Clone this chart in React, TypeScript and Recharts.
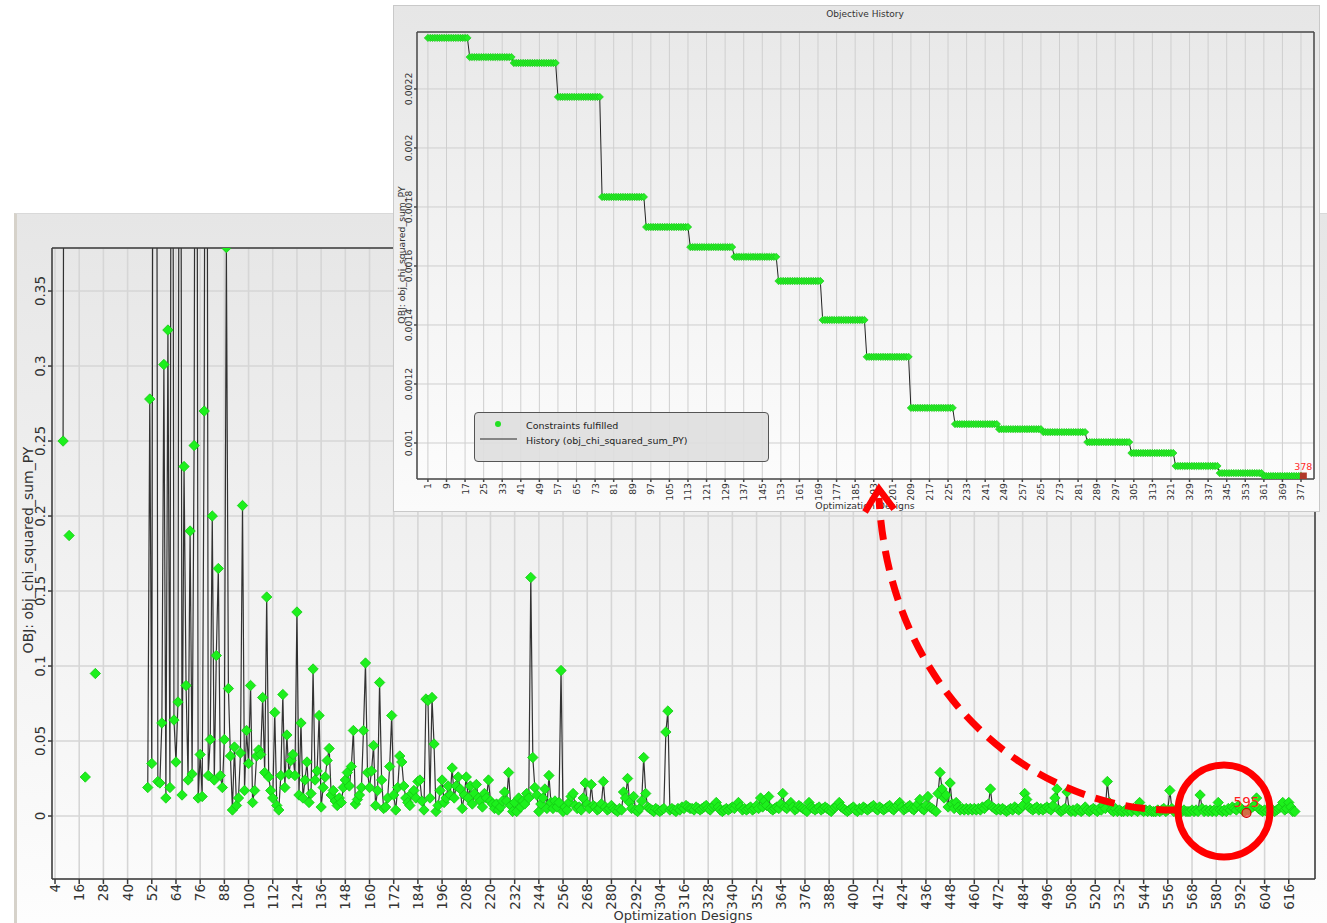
import React from "react";
import { LineChart, Line, XAxis, YAxis, CartesianGrid } from "recharts";

// ---- main run (values in 1e-3), isolated early designs ----
const earlyDesigns = [8, 9, 11, 19, 24];
const earlyValues = [250, 900, 187, 26, 95];

// designs 50..99
const d050 = [
  19, 278, 35, 900, 900, 23, 22, 62, 301, 12,
  324, 19, 900, 64, 36, 76, 900, 14, 233, 87,
  24, 190, 28, 247, 900, 12, 41, 13, 270, 900,
  27, 51, 200, 24, 107, 165, 27, 19, 51, 379,
  85, 40, 4, 46, 7, 12, 42, 207, 17, 57,
];
const d100 = [
  35, 87, 9, 17, 40, 44, 41, 79, 29, 146,
  26, 17, 12, 69, 7, 4, 27, 81, 19, 54,
  28, 37, 41, 27, 136, 14, 62, 12, 24, 36,
  9, 15, 98, 24, 30, 67, 6, 19, 26, 37,
  45, 14, 17, 10, 7, 12, 9, 19, 24, 29,
];
const d150 = [
  20, 33, 57, 8, 11, 14, 19, 57, 102, 29,
  19, 30, 47, 7, 17, 89, 24, 5, 6, 12,
  33, 67, 14, 4, 19, 40, 36, 20, 12, 9,
  7, 15, 17, 12, 23, 24, 10, 4, 78, 77,
  12, 79, 48, 3, 7, 17, 24, 9, 12, 20,
];
const d200 = [
  14, 32, 12, 20, 26, 18, 5, 14, 26, 12,
  20, 8, 15, 21, 12, 10, 6, 15, 12, 24,
  10, 8, 5, 8, 4, 6, 10, 16, 10, 29,
  7, 3, 9, 3, 12, 6, 10, 8, 15, 12,
  159, 39, 19, 14, 3, 8, 12, 18, 5, 27,
];
const d250 = [
  9, 5, 10, 6, 9, 97, 3, 6, 4, 9,
  13, 15, 7, 5, 6, 4, 12, 22, 8, 5,
  21, 7, 6, 4, 5, 8, 23, 6, 4, 5,
  7, 5, 4, 3, 5, 4, 16, 12, 25, 9,
  5, 13, 4, 3, 5, 10, 39, 15, 6, 5,
];
const d300 = [
  4, 3, 5, 4, 3, 4, 5, 56, 70, 4,
  5, 4, 3, 5, 4, 6, 5, 7, 6, 5,
  5, 4, 6, 5, 4, 5, 6, 7, 5, 4,
  6, 7, 9, 6, 4, 3, 4, 5, 4, 5,
  6, 5, 7, 9, 6, 4, 5, 4, 5, 6,
];
const d350 = [
  4, 5, 7, 5, 12, 6, 10, 7, 13, 5,
  4, 5, 6, 5, 8, 15, 6, 5, 7, 9,
  6, 4, 5, 7, 6, 5, 4, 3, 9, 6,
  5, 4, 5, 6, 4, 5, 6, 5, 4, 3,
  5, 6, 7, 9, 6, 5, 4, 3, 4, 5,
];
const d400 = [
  6, 4, 3, 5, 4, 6, 5, 4, 5, 6,
  7, 5, 4, 6, 5, 4, 5, 6, 7, 5,
  4, 6, 7, 9, 6, 4, 5, 6, 7, 5,
  4, 6, 8, 11, 5, 4, 7, 13, 6, 5,
  4, 3, 15, 29, 18, 12, 14, 6, 22, 8,
];
const d450 = [
  5, 9, 6, 4, 5, 4, 5, 4, 5, 4,
  5, 4, 5, 4, 6, 5, 7, 8, 18, 6,
  5, 4, 5, 4, 5, 4, 3, 4, 5, 4,
  6, 5, 4, 5, 7, 15, 11, 6, 5, 4,
  5, 6, 4, 5, 4, 5, 6, 5, 4, 7,
];
const d500 = [
  12, 18, 4, 3, 4, 5, 16, 4, 3, 4,
  3, 5, 4, 3, 4, 6, 4, 3, 4, 5,
  4, 3, 5, 4, 7, 5, 23, 9, 4, 3,
  5, 3, 4, 3, 3, 4, 3, 4, 3, 5,
  4, 3, 9, 4, 3, 4, 3, 4, 3, 3,
];
const d550 = [
  3, 4, 3, 4, 5, 3, 4, 17, 5, 3,
  4, 3, 4, 3, 4, 3, 3, 3, 4, 3,
  4, 3, 14, 5, 3, 4, 3, 4, 3, 4,
  3, 9, 4, 3, 4, 3, 5, 4, 6, 5,
  4, 7, 5, 4, 3, 2, 4, 5, 6, 7,
];
const d600 = [
  12, 5, 4, 3, 4, 3, 4, 3, 4, 3,
  4, 5, 6, 9, 4, 5, 9, 6, 3, 3,
];
const mainBlocks: [number, number[]][] = [
  [50, d050], [100, d100], [150, d150], [200, d200], [250, d250], [300, d300],
  [350, d350], [400, d400], [450, d450], [500, d500], [550, d550], [600, d600],
];
const mainLast = 619;

const mainXTicks = [
  4, 16, 28, 40, 52, 64, 76, 88, 100, 112, 124, 136, 148, 160, 172, 184, 196, 208,
  220, 232, 244, 256, 268, 280, 292, 304, 316, 328, 340, 352, 364, 376, 388, 400,
  412, 424, 436, 448, 460, 472, 484, 496, 508, 520, 532, 544, 556, 568, 580, 592,
  604, 616,
];
const mainYTicks = [0, 0.05, 0.1, 0.15, 0.2, 0.25, 0.3, 0.35];

// ---- inset: objective history plateaus (values in 1e-6) ----
const stepStart = [1, 19, 38, 57, 76, 95, 114, 133, 152, 171, 190, 209, 228, 247, 266, 285, 304, 323, 342, 361];
const stepLevel = [2373, 2308, 2288, 2173, 1834, 1732, 1664, 1631, 1549, 1417, 1292, 1119, 1064, 1047, 1037, 1003, 966, 922, 898, 888];
const insetLast = 378;

const insetXTicks = [
  1, 9, 17, 25, 33, 41, 49, 57, 65, 73, 81, 89, 97, 105, 113, 121, 129, 137, 145,
  153, 161, 169, 177, 185, 193, 201, 209, 217, 225, 233, 241, 249, 257, 265, 273,
  281, 289, 297, 305, 313, 321, 329, 337, 345, 353, 361, 369, 377,
];
const insetYTicks = [0.001, 0.0012, 0.0014, 0.0016, 0.0018, 0.002, 0.0022];

// ---- tables ----
const mainRows: { design: number; v: number | null }[] = [];
for (let d = 1; d <= mainLast; d++) mainRows.push({ design: d, v: null });
earlyDesigns.forEach((d, i) => (mainRows[d - 1].v = earlyValues[i] / 1000));
mainBlocks.forEach(([start, vals]) => vals.forEach((v, i) => (mainRows[start + i - 1].v = v / 1000)));

let mainBest = mainRows[0];
mainRows.forEach((r) => {
  if (r.v != null && (mainBest.v == null || r.v < mainBest.v)) mainBest = r;
});

const insetRows: { design: number; v: number }[] = [];
for (let d = 1; d <= insetLast; d++) {
  let k = 0;
  while (k + 1 < stepStart.length && stepStart[k + 1] <= d) k++;
  insetRows.push({ design: d, v: stepLevel[k] / 1e6 });
}
let insetBest = insetRows[0];
insetRows.forEach((r) => {
  if (r.v <= insetBest.v) insetBest = r;
});

const FONT = "'DejaVu Sans', Verdana, sans-serif";
const diamond = (cx: number, cy: number, r: number) =>
  `M${cx},${cy - r}L${cx + r},${cy}L${cx},${cy + r}L${cx - r},${cy}Z`;

function mainDot(props: any) {
  const { cx, cy, payload, index } = props;
  if (cx == null || cy == null || payload.v == null || payload.design === mainBest.design) return <g key={`m${index}`} />;
  return <path key={`m${index}`} d={diamond(cx, cy, 5.2)} fill="#1cf01c" stroke="#14c814" strokeWidth={0.8} />;
}

// best design: red marker and its number, drawn on top of everything else
function mainBestDot(props: any) {
  const { cx, cy, payload, index } = props;
  if (cx == null || cy == null || payload.design !== mainBest.design) return <g key={`b${index}`} />;
  return (
    <g key={`b${index}`}>
      <circle cx={cx} cy={cy} r={4.5} fill="#ff5050" fillOpacity={0.8} stroke="#d00000" strokeWidth={1.2} />
      <text x={cx} y={cy - 6} textAnchor="middle" fontSize={13.5} fill="#ff2020" fontFamily={FONT}>
        {payload.design}
      </text>
    </g>
  );
}

function insetDot(props: any) {
  const { cx, cy, payload, index } = props;
  if (cx == null || cy == null) return <g key={`i${index}`} />;
  if (payload.design === insetBest.design) {
    return (
      <g key={`i${index}`}>
        <rect x={cx - 3.5} y={cy - 3.5} width={7} height={7} fill="#b03a2a" />
        <text x={cx} y={cy - 6} textAnchor="middle" fontSize={9.5} fill="#ff2a2a" fontFamily={FONT}>
          {payload.design}
        </text>
      </g>
    );
  }
  return <path key={`i${index}`} d={diamond(cx, cy, 3.7)} fill="#25ec25" stroke="#18c018" strokeWidth={0.6} />;
}

const MainXTick = ({ x, y, payload }: any) => (
  <text x={x} y={y} transform={`rotate(-90 ${x} ${y})`} textAnchor="end" dominantBaseline="central"
    fontSize={13.5} fill="#333" fontFamily={FONT}>{payload.value}</text>
);
const MainYTick = ({ x, y, payload }: any) => (
  <text x={x - 6} y={y} transform={`rotate(-90 ${x - 6} ${y})`} textAnchor="middle" dominantBaseline="central"
    fontSize={13.5} fill="#333" fontFamily={FONT}>{payload.value}</text>
);
const InsetXTick = ({ x, y, payload }: any) => (
  <text x={x} y={y} transform={`rotate(-90 ${x} ${y})`} textAnchor="end" dominantBaseline="central"
    fontSize={9.3} fill="#333" fontFamily={FONT}>{payload.value}</text>
);
const InsetYTick = ({ x, y, payload }: any) => (
  <text x={x - 3} y={y} transform={`rotate(-90 ${x - 3} ${y})`} textAnchor="middle" dominantBaseline="central"
    fontSize={9.3} fill="#333" fontFamily={FONT}>{payload.value}</text>
);

const overlay: React.CSSProperties = { position: "absolute", left: 0, top: 0, width: 1327, height: 923, pointerEvents: "none" };

export default function App() {
  const mainX: [number, number] = [2.5, 629];
  const mainY: [number, number] = [-0.042, 0.3787];
  const insetX: [number, number] = [-3.7, 382.6];
  const insetY: [number, number] = [0.000878, 0.002393];

  return (
    <div style={{ position: "relative", width: 1327, height: 923, background: "#fff", overflow: "hidden", fontFamily: FONT }}>
      <style>{`body{margin:0}`}</style>
      <svg width={0} height={0} style={{ position: "absolute" }}>
        <defs>
          <linearGradient id="mainBg" x1="0" y1="0" x2="0" y2="1">
            <stop offset="0%" stopColor="#e7e7e7" />
            <stop offset="100%" stopColor="#fbfbfb" />
          </linearGradient>
          <linearGradient id="insetBg" x1="0" y1="0" x2="0" y2="1">
            <stop offset="0%" stopColor="#e9e9e9" />
            <stop offset="100%" stopColor="#fcfcfc" />
          </linearGradient>
        </defs>
      </svg>

      {/* main panel */}
      <div style={{ position: "absolute", left: 14, top: 213, width: 1313, height: 710,
        background: "linear-gradient(#e6e6e6, #fdfdfd)", borderLeft: "3px solid #d6d2ca", borderTop: "1px solid #d9d9d9", boxSizing: "border-box" }}>
        <div style={{ position: "absolute", left: -3, top: -1 }}>
          <LineChart width={1313} height={710} data={mainRows} margin={{ top: 35, right: 12, bottom: 4, left: 8 }}>
            <CartesianGrid stroke="#d6d6d6" strokeWidth={1.6} fill="url(#mainBg)" fillOpacity={1} />
            <XAxis type="number" dataKey="design" domain={mainX} ticks={mainXTicks} interval={0} allowDataOverflow
              height={40} tickSize={5} tickMargin={0} tick={<MainXTick />} stroke="#3a3a3a" strokeWidth={1.5} />
            <XAxis xAxisId="top" orientation="top" mirror type="number" dataKey="design" domain={mainX} ticks={mainXTicks}
              interval={0} allowDataOverflow tick={false} tickSize={5} stroke="#3a3a3a" strokeWidth={1.5} />
            <YAxis domain={mainY} ticks={mainYTicks} interval={0} allowDataOverflow width={30} tickSize={4} tickMargin={2}
              tick={<MainYTick />} stroke="#3a3a3a" strokeWidth={1.5} />
            <YAxis yAxisId="right" orientation="right" mirror domain={mainY} ticks={mainYTicks} interval={0} allowDataOverflow
              tick={false} tickSize={5} stroke="#3a3a3a" strokeWidth={1.5} />
            <Line name="Constraints fulfilled" dataKey="v" stroke="none" dot={mainDot} activeDot={false}
              isAnimationActive={false} connectNulls={false} />
            <Line name="History (obj_chi_squared_sum_PY)" dataKey="v" stroke="#111" strokeOpacity={0.85} strokeWidth={1.2}
              dot={false} activeDot={false} isAnimationActive={false} connectNulls={false} />
            <Line name="Best design" dataKey="v" stroke="none" dot={mainBestDot} activeDot={false}
              isAnimationActive={false} connectNulls={false} />
          </LineChart>
        </div>
      </div>
      <svg style={overlay}>
        <text x={28} y={550} transform="rotate(-90 28 550)" textAnchor="middle" dominantBaseline="central"
          fontSize={14} fill="#333" fontFamily={FONT}>OBJ: obj_chi_squared_sum_PY</text>
        <text x={683} y={915} textAnchor="middle" dominantBaseline="central" fontSize={13} fill="#333" fontFamily={FONT}>
          Optimization Designs
        </text>
      </svg>

      {/* inset panel */}
      <div style={{ position: "absolute", left: 393, top: 5, width: 927, height: 507,
        background: "linear-gradient(#e6e6e6, #fbfbfb)", border: "1px solid #c9c9c9", boxSizing: "border-box" }}>
        <div style={{ position: "absolute", left: -1, top: -1 }}>
          <LineChart width={927} height={507} data={insetRows} margin={{ top: 27, right: 6, bottom: 5, left: 8 }}>
            <CartesianGrid stroke="#cfcfcf" strokeWidth={1} fill="url(#insetBg)" fillOpacity={1} />
            <XAxis type="number" dataKey="design" domain={insetX} ticks={insetXTicks} interval={0} allowDataOverflow
              height={28} tickSize={3} tickMargin={1} tick={<InsetXTick />} stroke="#4a4a4a" strokeWidth={1.5} />
            <XAxis xAxisId="top" orientation="top" mirror type="number" dataKey="design" domain={insetX} ticks={insetXTicks}
              interval={0} allowDataOverflow tick={false} tickSize={4} stroke="#4a4a4a" strokeWidth={1.5} />
            <YAxis domain={insetY} ticks={insetYTicks} interval={0} allowDataOverflow width={16} tickSize={3} tickMargin={2}
              tick={<InsetYTick />} stroke="#4a4a4a" strokeWidth={1.5} />
            <YAxis yAxisId="right" orientation="right" mirror domain={insetY} ticks={insetYTicks} interval={0} allowDataOverflow
              tick={false} tickSize={4} stroke="#4a4a4a" strokeWidth={1.5} />
            <Line name="Constraints fulfilled" dataKey="v" stroke="none" dot={insetDot} activeDot={false} isAnimationActive={false} />
            <Line name="History (obj_chi_squared_sum_PY)" dataKey="v" stroke="#222" strokeWidth={1} dot={false}
              activeDot={false} isAnimationActive={false} />
          </LineChart>
        </div>
        <div style={{ position: "absolute", left: 80, top: 406, width: 295, height: 50, boxSizing: "border-box",
          border: "1.5px solid #555", borderRadius: 4, background: "rgba(222,222,222,0.92)", fontSize: 9.5, color: "#222" }}>
          <svg width={292} height={47} style={{ position: "absolute", left: 0, top: 0 }}>
            <circle cx={23} cy={11} r={3} fill="#22e022" />
            <line x1={5} y1={26} x2={42} y2={26} stroke="#666" strokeWidth={1.5} />
            <text x={51} y={12} dominantBaseline="central" fontSize={9.5} fill="#222" fontFamily={FONT}>Constraints fulfilled</text>
            <text x={51} y={27.5} dominantBaseline="central" fontSize={9.5} fill="#222" fontFamily={FONT}>
              History (obj_chi_squared_sum_PY)
            </text>
          </svg>
        </div>
      </div>
      <svg style={overlay}>
        <text x={865} y={14} textAnchor="middle" dominantBaseline="central" fontSize={9} fill="#333" fontFamily={FONT}>
          Objective History
        </text>
        <text x={401} y={255} transform="rotate(-90 401 255)" textAnchor="middle" dominantBaseline="central"
          fontSize={9.3} fill="#333" fontFamily={FONT}>OBJ: obj_chi_squared_sum_PY</text>
        <text x={865} y={505} textAnchor="middle" dominantBaseline="central" fontSize={9.3} fill="#333" fontFamily={FONT}>
          Optimization Designs
        </text>
      </svg>

      {/* red annotation */}
      <svg style={overlay}>
        <circle cx={1224} cy={811} r={46} fill="none" stroke="#ff0000" strokeWidth={7} />
        <path d="M1176,810 C1040,812 890,700 879,498" fill="none" stroke="#ff0000" strokeWidth={7} strokeDasharray="20 11" />
        <polyline points="865,512 879,489 894,509" fill="none" stroke="#ff0000" strokeWidth={6.5} strokeLinejoin="miter" />
      </svg>
    </div>
  );
}
